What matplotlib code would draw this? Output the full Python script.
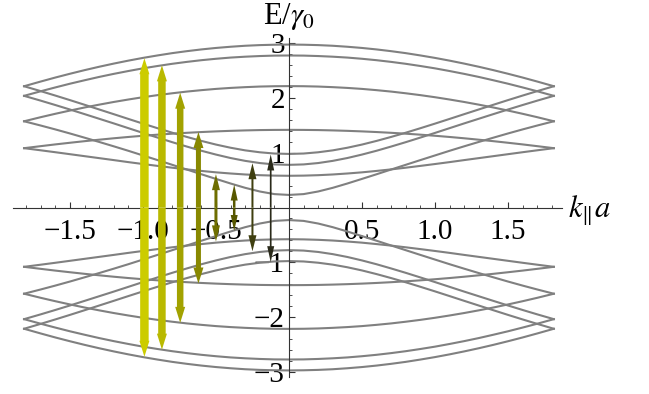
import numpy as np
import matplotlib.pyplot as plt
from matplotlib.ticker import MultipleLocator

plt.rcParams['font.family'] = ['Liberation Serif', 'DejaVu Serif']
plt.rcParams['mathtext.fontset'] = 'stix'

# k values (k>=0 half, curves are symmetric in k and in E)
k_half = [0.0, 0.1, 0.2, 0.3, 0.4, 0.5, 0.6, 0.7, 0.8, 0.9, 1.0,
          1.1, 1.2, 1.3, 1.4, 1.5, 1.6, 1.7, 1.814]

# upper subbands (E/gamma0)
band_a1 = [2.98, 2.977, 2.97, 2.958, 2.94, 2.918, 2.891, 2.859, 2.823, 2.781,
           2.736, 2.686, 2.632, 2.574, 2.512, 2.446, 2.377, 2.304, 2.218]
band_b1 = [0.98, 0.987, 1.01, 1.045, 1.093, 1.151, 1.218, 1.291, 1.368, 1.45,
           1.534, 1.62, 1.707, 1.793, 1.879, 1.964, 2.047, 2.128, 2.218]
band_a2 = [2.78, 2.778, 2.77, 2.758, 2.742, 2.72, 2.694, 2.663, 2.628, 2.588,
           2.545, 2.496, 2.444, 2.388, 2.327, 2.264, 2.196, 2.126, 2.042]
band_b2 = [0.78, 0.788, 0.813, 0.853, 0.905, 0.968, 1.038, 1.115, 1.195, 1.279,
           1.364, 1.451, 1.538, 1.623, 1.708, 1.792, 1.874, 1.954, 2.042]
band_a3 = [2.22, 2.218, 2.212, 2.201, 2.187, 2.169, 2.146, 2.12, 2.089, 2.055,
           2.017, 1.975, 1.93, 1.881, 1.829, 1.773, 1.714, 1.652, 1.577]
band_b3 = [0.23, 0.245, 0.293, 0.36, 0.439, 0.523, 0.608, 0.695, 0.781, 0.867,
           0.952, 1.037, 1.119, 1.199, 1.277, 1.354, 1.428, 1.499, 1.577]
band_a4 = [1.42, 1.419, 1.416, 1.41, 1.402, 1.392, 1.38, 1.366, 1.35, 1.332,
           1.312, 1.29, 1.266, 1.24, 1.213, 1.184, 1.154, 1.122, 1.085]
band_b4 = [0.58, 0.583, 0.591, 0.604, 0.622, 0.643, 0.669, 0.697, 0.728, 0.761,
           0.795, 0.83, 0.867, 0.903, 0.939, 0.975, 1.011, 1.046, 1.085]
bands = [band_a1, band_b1, band_a2, band_b2, band_a3, band_b3, band_a4, band_b4]

# transition arrows
arrow_k = [-0.99, -0.87, -0.745, -0.62, -0.50, -0.375, -0.25, -0.125]
arrow_top = [2.73, 2.60, 2.10, 1.38, 0.61, 0.42, 0.81, 0.97]
arrow_bot = [-2.73, -2.60, -2.11, -1.39, -0.62, -0.43, -0.80, -1.00]
arrow_col = ['#cccc00', '#b9b900', '#a2a200', '#888800', '#6e6e00',
             '#575700', '#3f3f10', '#2a2a1a']
arrow_px = [8.5, 7.5, 6.5, 5.0, 3.0, 2.5, 2.0, 1.7]
head_px = [10, 10, 10, 10, 8, 7, 8, 7]

fig = plt.figure(figsize=(6.49, 3.94), dpi=100)
ax = fig.add_axes([13 / 649, 17 / 394, 549 / 649, 339 / 394])
ax.set_xlim(-1.89, 1.87)
ax.set_ylim(-3.1, 3.1)

kh = np.array(k_half)
k_full = np.concatenate([-kh[::-1], kh[1:]])
for b in bands:
    e = np.array(b)
    e_full = np.concatenate([e[::-1], e[1:]])
    ax.plot(k_full, e_full, color='#808080', lw=1.5, zorder=2)
    ax.plot(k_full, -e_full, color='#808080', lw=1.5, zorder=2)

# pixel -> data conversions
px_x = 3.76 / 549
px_y = 6.2 / 339
for k, t, b, c, w, h in zip(arrow_k, arrow_top, arrow_bot, arrow_col, arrow_px, head_px):
    for end in (t, b):
        ax.arrow(k, 0, 0, end, width=w * px_x, head_width=h * px_x,
                 head_length=16 * px_y, length_includes_head=True,
                 color=c, lw=0, zorder=3)

for s in ['top', 'right']:
    ax.spines[s].set_visible(False)
ax.spines['left'].set_position(('data', 0))
ax.spines['bottom'].set_position(('data', 0))
for s in ['left', 'bottom']:
    ax.spines[s].set_color('#333333')
    ax.spines[s].set_linewidth(0.8)

ax.set_xticks([-1.5, -1.0, -0.5, 0.5, 1.0, 1.5],
              ['\u22121.5', '\u22121.0', '\u22120.5', '0.5', '1.0', '1.5'])
ax.set_yticks([-3, -2, -1, 1, 2, 3], ['\u22123', '\u22122', '\u22121', '1', '2', '3'])
ax.xaxis.set_minor_locator(MultipleLocator(0.1))
ax.yaxis.set_minor_locator(MultipleLocator(0.2))
ax.tick_params(which='major', direction='in', length=4, width=0.8, color='#333333',
               labelsize=21)
ax.tick_params(which='minor', direction='in', length=2, width=0.6, color='#333333')
ax.tick_params(axis='x', pad=8)
ax.tick_params(axis='y', pad=3)
for lab in ax.get_xticklabels() + ax.get_yticklabels():
    lab.set_zorder(5)

ax.text(0.0, 3.36, r'E/$\gamma_0$', fontsize=22, ha='center', va='baseline')
ax.text(1.91, -0.19, r'$k_{\|}a$', fontsize=22, ha='left', va='baseline')

fig.savefig('out.png', dpi=100)
